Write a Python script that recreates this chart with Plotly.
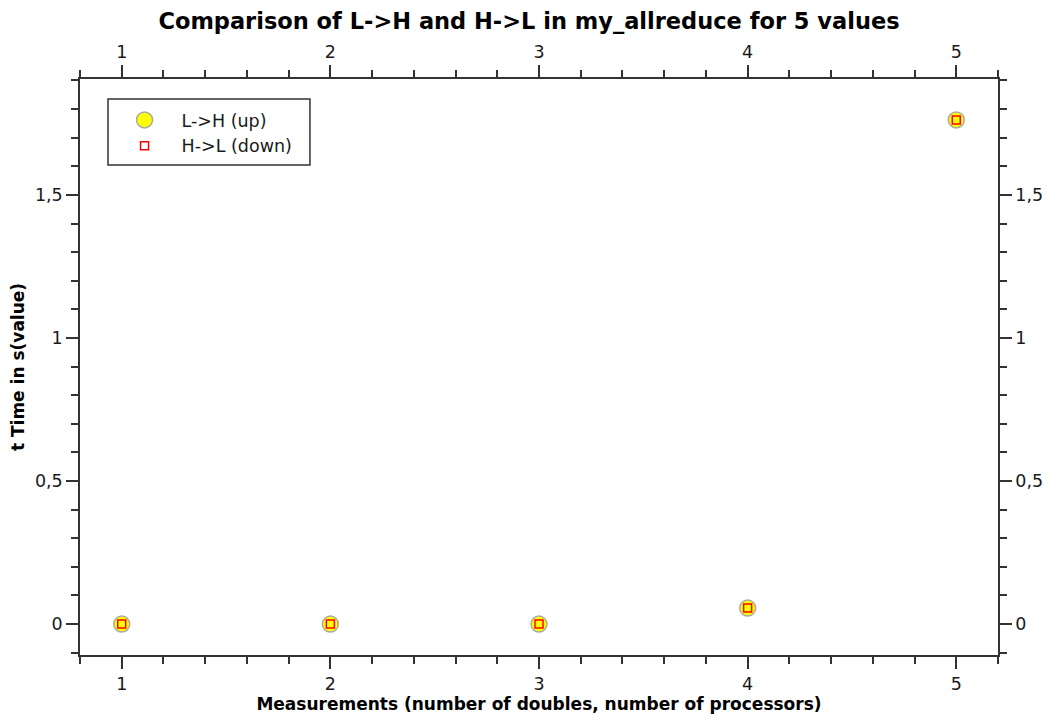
import plotly.graph_objects as go

measurements = [1, 2, 3, 4, 5]
up_values = [0.0, 0.0, 0.0, 0.056, 1.762]
down_values = [0.0, 0.0, 0.0, 0.056, 1.762]
x_ticks = [1, 2, 3, 4, 5]
y_ticks = [0, 0.5, 1, 1.5]

FONT = "DejaVu Sans"
TXT = "#1a1a1a"
AX = "#333333"

fig = go.Figure()
fig.add_trace(go.Scatter(
    x=measurements, y=up_values, mode="markers", name="L->H (up)",
    marker=dict(symbol="circle", size=16, color="#ffff00",
                line=dict(color="#a8a8a8", width=1.5)),
))
fig.add_trace(go.Scatter(
    x=measurements, y=down_values, mode="markers", name="H->L (down)",
    marker=dict(symbol="square-open", size=8, color="#ff0000",
                line=dict(color="#ff0000", width=1.5)),
))
# invisible trace for mirrored top/right axes
fig.add_trace(go.Scatter(
    x=measurements, y=up_values, mode="markers", xaxis="x2", yaxis="y2",
    marker=dict(opacity=0), showlegend=False, hoverinfo="skip",
))

xr = [0.8, 5.2]
yr = [-0.108, 1.905]

common_axis = dict(
    showline=True, linecolor=AX, linewidth=1.5, ticks="outside",
    ticklen=12, tickwidth=1.5, tickcolor=AX, showgrid=False, zeroline=False,
    automargin=False,
    tickfont=dict(family=FONT, size=17.5, color=TXT),
)
xminor = dict(dtick=0.2, tick0=0, ticks="outside", ticklen=7, tickwidth=1.5, tickcolor=AX)
yminor = dict(dtick=0.1, tick0=0, ticks="outside", ticklen=7, tickwidth=1.5, tickcolor=AX)

# page body has an 8px margin: figure is shrunk so the plot area lands where the reference has it
fig.update_layout(
    width=1042, height=710,
    paper_bgcolor="white", plot_bgcolor="white",
    separators=",.",
    margin=dict(l=72, r=52, t=71, b=63),
    title=dict(text="<b>Comparison of L->H and H->L in my_allreduce for 5 values</b>",
               x=0.5, xref="container", xanchor="center", y=0.981, yanchor="middle",
               font=dict(family=FONT, size=22.5, color="#000000")),
    xaxis=dict(range=xr, tickvals=x_ticks, minor=xminor,
               title=dict(text="<b>Measurements (number of doubles, number of processors)</b>",
                          font=dict(family=FONT, size=17, color="#000000"), standoff=0),
               **common_axis),
    yaxis=dict(range=yr, tickvals=y_ticks, minor=yminor,
               title=dict(text="<b>t Time in s(value)</b>",
                          font=dict(family=FONT, size=17, color="#000000"), standoff=6),
               **common_axis),
    xaxis2=dict(range=xr, tickvals=x_ticks, overlaying="x", side="top", minor=xminor,
                **common_axis),
    yaxis2=dict(range=yr, tickvals=y_ticks, overlaying="y", side="right", minor=yminor,
                **common_axis),
    legend=dict(x=0.03, y=0.96, xanchor="left", yanchor="top",
                bgcolor="rgba(0,0,0,0)", borderwidth=0,
                font=dict(family=FONT, size=17.5, color=TXT),
                itemsizing="trace", itemwidth=64, tracegroupgap=0),
    showlegend=True,
    # legend frame
    shapes=[dict(type="rect", xref="paper", yref="paper",
                 x0=0.0305, x1=0.2505, y0=0.8507, y1=0.9653,
                 line=dict(color=AX, width=1.5), fillcolor="white", layer="below")],
)

fig.write_html("out.html")
